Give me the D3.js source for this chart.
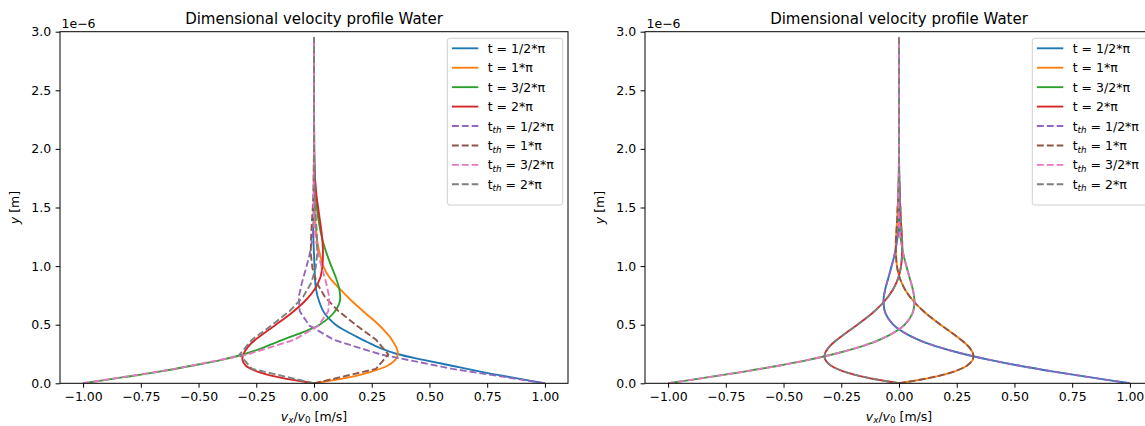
<!DOCTYPE html>
<html><head><meta charset="utf-8">
<script src="https://cdn.jsdelivr.net/npm/d3@7"></script>
<style>
body{margin:0;background:#fff;overflow:hidden;}
text{font-family:"DejaVu Sans",sans-serif;fill:#000;}
</style></head><body>
<svg id="c" width="1145" height="426"></svg>
<script>
// ---------- DATA (y in units of 1e-6 m, values are v_x/v_0) ----------
const yFine = [0, 0.05, 0.1, 0.15, 0.2, 0.25, 0.3, 0.35, 0.4, 0.45, 0.5, 0.6, 0.7, 0.8, 0.9, 1.0, 1.1, 1.2, 1.3, 1.4, 1.5, 1.6, 1.8, 2.0, 2.5, 2.95];

// left panel: numerical profiles
const numHalf      = [1.0, 0.857, 0.72, 0.597, 0.474, 0.36, 0.287, 0.232, 0.182, 0.134, 0.094, 0.045, 0.022, 0.009, 0.004, 0.002, 0.0, -0.002, -0.003, -0.002, -0.001, 0, 0, 0, 0, 0];
const numOne       = [0, 0.15, 0.25, 0.318, 0.352, 0.364, 0.358, 0.344, 0.327, 0.305, 0.280, 0.222, 0.165, 0.115, 0.068, 0.040, 0.026, 0.015, 0.009, 0.005, 0.003, 0.002, 0.001, 0, 0, 0];
const numThreeHalf = [-1.0, -0.831, -0.67, -0.53, -0.40, -0.30, -0.225, -0.163, -0.097, -0.03, 0.024, 0.085, 0.112, 0.11, 0.095, 0.075, 0.056, 0.04, 0.028, 0.019, 0.012, 0.008, 0.003, 0.001, 0, 0];
const numTwo       = [0, -0.15, -0.245, -0.295, -0.31, -0.305, -0.29, -0.267, -0.235, -0.2, -0.165, -0.097, -0.04, 0.002, 0.027, 0.036, 0.039, 0.037, 0.032, 0.025, 0.018, 0.011, 0.003, 0.001, 0, 0];

// left panel: theoretical profiles (coarse sampling)
const yCoarse = [0, 0.123, 0.246, 0.369, 0.492, 0.615, 0.738, 0.861, 0.984, 1.107, 1.229, 1.352, 1.475, 1.6, 2.0, 2.5, 2.95];
const thHalfL      = [1, 0.600, 0.289, 0.088, -0.020, -0.062, -0.066, -0.052, -0.034, -0.018, -0.008, -0.001, 0.002, 0.002, 0, 0, 0];
const thOneL       = [0, 0.268, 0.322, 0.270, 0.186, 0.106, 0.047, 0.011, -0.007, -0.014, -0.013, -0.010, -0.006, -0.003, 0, 0, 0];
const thThreeHalfL = [-1, -0.600, -0.289, -0.088, 0.020, 0.062, 0.066, 0.052, 0.034, 0.018, 0.008, 0.001, -0.002, -0.002, 0, 0, 0];
const thTwoL       = [0, -0.268, -0.322, -0.270, -0.186, -0.106, -0.047, -0.011, 0.007, 0.014, 0.013, 0.010, 0.006, 0.003, 0, 0, 0];

// right panel: numerical and theoretical coincide
const rHalf      = [1.000, 0.831, 0.670, 0.522, 0.392, 0.280, 0.187, 0.111, 0.052, 0.008, -0.025, -0.059, -0.067, -0.060, -0.046, -0.032, -0.019, -0.010, -0.003, 0.001, 0.002, 0.003, 0.001, 0, 0, 0];
const rOne       = [0, 0.143, 0.238, 0.294, 0.319, 0.321, 0.307, 0.282, 0.250, 0.215, 0.180, 0.115, 0.063, 0.026, 0.003, -0.009, -0.013, -0.014, -0.011, -0.008, -0.006, -0.003, 0, 0, 0, 0];
const rThreeHalf = [-1.000, -0.831, -0.670, -0.522, -0.392, -0.280, -0.187, -0.111, -0.052, -0.008, 0.025, 0.059, 0.067, 0.060, 0.046, 0.032, 0.019, 0.010, 0.003, -0.001, -0.002, -0.003, -0.001, 0, 0, 0];
const rTwo       = [0, -0.143, -0.238, -0.294, -0.319, -0.321, -0.307, -0.282, -0.250, -0.215, -0.180, -0.115, -0.063, -0.026, -0.003, 0.009, 0.013, 0.014, 0.011, 0.008, 0.006, 0.003, 0, 0, 0, 0];

const timeLabels = ["1/2*π", "1*π", "3/2*π", "2*π"];
const xTicks = [-1, -0.75, -0.5, -0.25, 0, 0.25, 0.5, 0.75, 1];
const yTicks = [0, 0.5, 1.0, 1.5, 2.0, 2.5, 3.0];
const titleText = "Dimensional velocity profile Water";
const offsetText = "1e−6";
const numColors = ["#1f77b4", "#ff7f0e", "#2ca02c", "#d62728"];
const thColors  = ["#9467bd", "#8c564b", "#e377c2", "#7f7f7f"];

// ---------- DRAW ----------
const svg = d3.select("#c");
const AX_W = 508, AX_TOP = 31.7, AX_BOT = 383.3;
const FS = 12.5, LW = 1.875;
const dash = "6.9,3";

function drawPanel(idx, left, numSeries, numY, thSeries, thY, numCurve, thCurve) {
  const g = svg.append("g");
  const x = d3.scaleLinear().domain([-1.1, 1.1]).range([left, left + AX_W]);
  const y = d3.scaleLinear().domain([0, 3]).range([AX_BOT, AX_TOP]);

  const clipId = "clip" + idx;
  svg.append("defs").append("clipPath").attr("id", clipId)
    .append("rect").attr("x", left).attr("y", AX_TOP).attr("width", AX_W).attr("height", AX_BOT - AX_TOP);

  const lines = g.append("g").attr("clip-path", `url(#${clipId})`);
  numSeries.forEach((vals, i) => {
    const line = d3.line().x(d => x(d[0])).y(d => y(d[1])).curve(numCurve);
    lines.append("path").datum(d3.zip(vals, numY)).attr("d", line)
      .attr("fill", "none").attr("stroke", numColors[i]).attr("stroke-width", LW)
      .attr("stroke-linejoin", "round").attr("stroke-linecap", "butt");
  });
  thSeries.forEach((vals, i) => {
    const line = d3.line().x(d => x(d[0])).y(d => y(d[1])).curve(thCurve);
    lines.append("path").datum(d3.zip(vals, thY)).attr("d", line)
      .attr("fill", "none").attr("stroke", thColors[i]).attr("stroke-width", LW)
      .attr("stroke-dasharray", dash).attr("stroke-linejoin", "round");
  });

  // axes
  const xa = g.append("g").attr("transform", `translate(0,${AX_BOT})`)
    .call(d3.axisBottom(x).tickValues(xTicks).tickFormat(d3.format(".2f")).tickSize(4.4).tickPadding(4.2));
  const ya = g.append("g").attr("transform", `translate(${left},0)`)
    .call(d3.axisLeft(y).tickValues(yTicks).tickFormat(d3.format(".1f")).tickSize(4.4).tickPadding(4.4));
  [xa, ya].forEach(a => {
    a.select(".domain").remove();
    a.selectAll(".tick line").attr("stroke", "#000").attr("stroke-width", 1);
    a.selectAll(".tick text").attr("font-size", FS).attr("font-family", "DejaVu Sans").attr("fill", "#000");
  });

  g.append("rect").attr("x", left).attr("y", AX_TOP).attr("width", AX_W).attr("height", AX_BOT - AX_TOP)
    .attr("fill", "none").attr("stroke", "#000").attr("stroke-width", 1);

  // title, offset, labels
  g.append("text").attr("x", left + AX_W / 2).attr("y", 24.2).attr("text-anchor", "middle")
    .attr("font-size", 15).text(titleText);
  g.append("text").attr("x", left + 1.5).attr("y", 27.5).attr("font-size", FS).text(offsetText);

  const xl = g.append("text").attr("x", left + AX_W / 2).attr("y", 420.5).attr("text-anchor", "middle").attr("font-size", FS);
  xl.append("tspan").attr("font-style", "italic").text("v");
  xl.append("tspan").attr("font-style", "italic").attr("font-size", FS * 0.7).attr("dy", 2.5).text("x");
  xl.append("tspan").attr("dy", -2.5).text("/");
  xl.append("tspan").attr("font-style", "italic").text("v");
  xl.append("tspan").attr("font-size", FS * 0.7).attr("dy", 2.5).text("0");
  xl.append("tspan").attr("dy", -2.5).text(" [m/s]");

  const yl = g.append("text").attr("transform", `translate(${left - 41},${(AX_TOP + AX_BOT) / 2}) rotate(-90)`)
    .attr("text-anchor", "middle").attr("font-size", FS);
  yl.append("tspan").attr("font-style", "italic").text("y");
  yl.append("tspan").text(" [m]");

  // legend
  const lx = left + 387.3, ly = 38.3;
  const lg = g.append("g");
  lg.append("rect").attr("x", lx).attr("y", ly).attr("width", 115.4).attr("height", 166.7)
    .attr("rx", 2.5).attr("fill", "#fff").attr("fill-opacity", 0.8).attr("stroke", "#d0d0d0").attr("stroke-width", 1);
  const entries = [];
  timeLabels.forEach((t, i) => entries.push({ c: numColors[i], d: null, th: false, t }));
  timeLabels.forEach((t, i) => entries.push({ c: thColors[i], d: dash, th: true, t }));
  entries.forEach((e, i) => {
    const cy = 48.3 + i * 19.43;
    const ln = lg.append("line").attr("x1", lx + 4.6).attr("x2", lx + 31).attr("y1", cy).attr("y2", cy)
      .attr("stroke", e.c).attr("stroke-width", LW);
    if (e.d) ln.attr("stroke-dasharray", dash);
    const tx = lg.append("text").attr("x", lx + 40.4).attr("y", cy + 4.5).attr("font-size", FS);
    if (!e.th) {
      tx.text("t = " + e.t);
    } else {
      tx.append("tspan").text("t");
      tx.append("tspan").attr("font-style", "italic").attr("font-size", FS * 0.7).attr("dy", 2.6).text("th");
      tx.append("tspan").attr("dy", -2.6).text(" = " + e.t);
    }
  });
}

drawPanel(0, 60, [numHalf, numOne, numThreeHalf, numTwo], yFine,
  [thHalfL, thOneL, thThreeHalfL, thTwoL], yCoarse, d3.curveCatmullRom, d3.curveLinear);
drawPanel(1, 645, [rHalf, rOne, rThreeHalf, rTwo], yFine,
  [rHalf, rOne, rThreeHalf, rTwo], yFine, d3.curveCatmullRom, d3.curveCatmullRom);
</script>
</body></html>
